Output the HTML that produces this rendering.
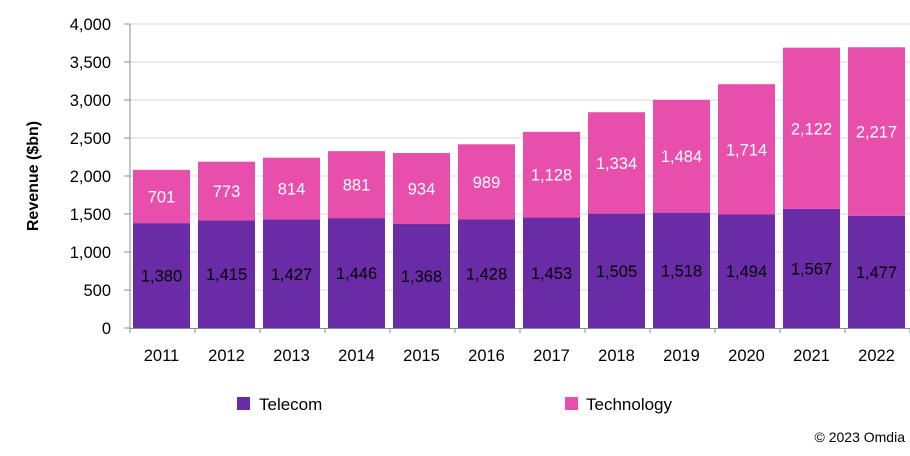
<!DOCTYPE html>
<html><head><style>
body{margin:0;background:#fff}
svg text{font-family:"Liberation Sans",sans-serif}
</style></head><body>
<svg width="910" height="451" xmlns="http://www.w3.org/2000/svg">
<rect width="910" height="451" fill="#fff"/>
<g id="grid" stroke="#d9d9d9" stroke-width="1"></g>
<g id="bars"></g>
<g id="axes"></g>
<text x="0" y="0" transform="translate(38,176) rotate(-90)" text-anchor="middle" font-size="16" font-weight="bold" fill="#000">Revenue ($bn)</text>
<rect x="237" y="397" width="13" height="13" fill="#6a2ca6"/>
<text x="259" y="410" font-size="17" fill="#000">Telecom</text>
<rect x="565" y="397" width="13" height="13" fill="#e84fad"/>
<text x="586" y="410" font-size="17" fill="#000">Technology</text>
<text x="905" y="442" font-size="14" text-anchor="end" fill="#000">© 2023 Omdia</text>
</svg>
<script>
const ns="http://www.w3.org/2000/svg";
const svg=document.querySelector('svg');
function el(t,a,p,txt){const e=document.createElementNS(ns,t);for(const k in a)e.setAttribute(k,a[k]);if(txt!=null)e.textContent=txt;(p||svg).appendChild(e);return e;}
const y0=328,ppu=304/4000;
const Y=v=>y0-v*ppu;
const g=document.getElementById('grid'),b=document.getElementById('bars'),ax=document.getElementById('axes');
for(let v=500;v<=4000;v+=500)el('line',{x1:130,x2:910,y1:Y(v),y2:Y(v)},g);
const tel=[1380,1415,1427,1446,1368,1428,1453,1505,1518,1494,1567,1477];
const tec=[701,773,814,881,934,989,1128,1334,1484,1714,2122,2217];
const fmt=n=>n.toLocaleString('en-US');
for(let i=0;i<12;i++){
 const x=133+i*65,w=57,cx=x+w/2;
 el('rect',{x:x,y:Y(tel[i]),width:w,height:tel[i]*ppu,fill:'#6a2ca6'},b);
 el('rect',{x:x,y:Y(tel[i]+tec[i]),width:w,height:tec[i]*ppu,fill:'#e84fad'},b);
 el('text',{x:cx,y:Y(tel[i]/2)+6,'text-anchor':'middle','font-size':16.5,fill:'#000'},b,fmt(tel[i]));
 el('text',{x:cx,y:Y(tel[i]+tec[i]/2)+6,'text-anchor':'middle','font-size':16.5,fill:'#fff'},b,fmt(tec[i]));
 el('text',{x:cx,y:361,'text-anchor':'middle','font-size':16.5,fill:'#000'},ax,String(2011+i));
}
el('line',{x1:130,x2:130,y1:Y(4000),y2:y0,stroke:'#868e96'},ax);
el('line',{x1:130,x2:910,y1:y0+0.5,y2:y0+0.5,stroke:'#868e96'},ax);
for(let v=0;v<=4000;v+=500){
 el('line',{x1:124,x2:130,y1:Y(v),y2:Y(v),stroke:'#868e96'},ax);
 el('text',{x:111,y:Y(v)+6,'text-anchor':'end','font-size':16.5,fill:'#000'},ax,fmt(v));
}
for(let i=0;i<=12;i++){const x=130+i*65;el('line',{x1:x,x2:x,y1:y0,y2:y0+5,stroke:'#868e96'},ax);}
</script>
</body></html>
